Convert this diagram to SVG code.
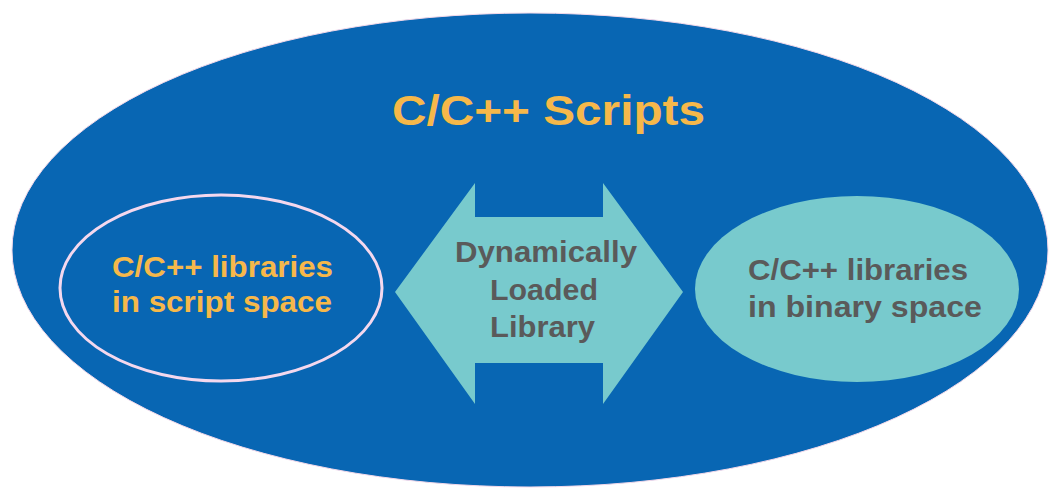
<svg xmlns="http://www.w3.org/2000/svg" width="1050" height="489" viewBox="0 0 1050 489">
  <style>
    .orange { fill: #f6b84a; font-family: "Liberation Sans", Arial, sans-serif; font-weight: bold; }
    .gray { fill: #5a5a5a; font-family: "Liberation Sans", Arial, sans-serif; font-weight: bold; }
    .teal { fill: #78cacd; }
  </style>
  <rect width="1050" height="489" fill="#ffffff"/>
  <g id="scripts">
    <ellipse cx="530" cy="250" rx="518" ry="237" fill="#0866b3" stroke="#f2d8ea" stroke-width="1"/>
    <text class="orange" x="392" y="125" font-size="42" textLength="313" lengthAdjust="spacingAndGlyphs">C/C++ Scripts</text>
  </g>
  <g id="script-libs">
    <ellipse cx="221" cy="288" rx="161" ry="93" fill="none" stroke="#f4d8ee" stroke-width="3"/>
    <text class="orange" x="112" y="277" font-size="30" textLength="221" lengthAdjust="spacingAndGlyphs">C/C++ libraries</text>
    <text class="orange" x="112" y="312" font-size="30" textLength="220" lengthAdjust="spacingAndGlyphs">in script space</text>
  </g>
  <g id="binary-libs">
    <ellipse class="teal" cx="857" cy="289" rx="162" ry="93"/>
    <text class="gray" x="748" y="280" font-size="30" textLength="220" lengthAdjust="spacingAndGlyphs">C/C++ libraries</text>
    <text class="gray" x="748" y="317" font-size="30" textLength="234" lengthAdjust="spacingAndGlyphs">in binary space</text>
  </g>
  <g id="connectors">
    <polygon class="teal" points="395,292 475,183 475,217 603,217 603,183 683,292 603,404 603,363 475,363 475,404"/>
    <text class="gray" x="455" y="262" font-size="29" textLength="182" lengthAdjust="spacingAndGlyphs">Dynamically</text>
    <text class="gray" x="490" y="300" font-size="29" textLength="108" lengthAdjust="spacingAndGlyphs">Loaded</text>
    <text class="gray" x="490" y="337" font-size="29" textLength="105" lengthAdjust="spacingAndGlyphs">Library</text>
  </g>
</svg>
